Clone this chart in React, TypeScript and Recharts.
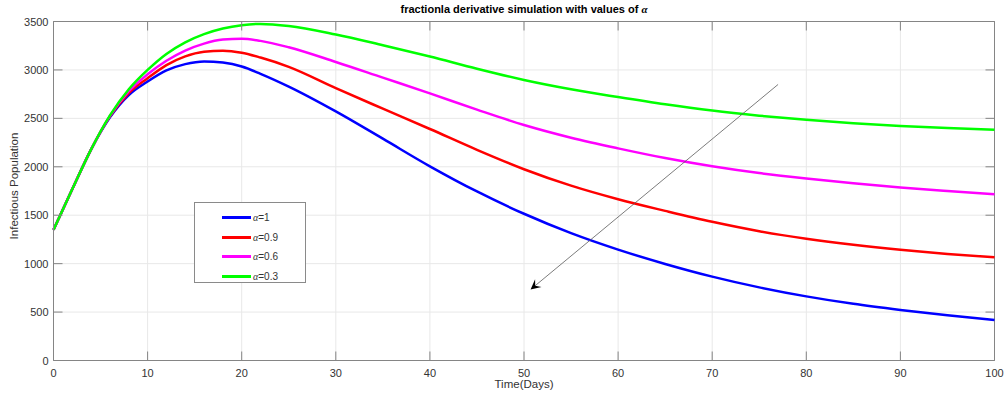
import React from "react";
import {
  LineChart,
  Line,
  XAxis,
  YAxis,
  CartesianGrid,
  ReferenceLine,
} from "recharts";

// time axis (days)
const days = [0, 2, 4, 6, 8, 10, 12, 14, 16, 18, 20, 22, 25, 30, 35, 40, 45, 50, 55, 60, 65, 70, 75, 80, 85, 90, 95, 100];

// infectious population for each fractional order
const alpha1 = [1350, 1770, 2180, 2510, 2740, 2880, 2995, 3060, 3088, 3076, 3035, 2960, 2828, 2572, 2290, 2005, 1745, 1515, 1315, 1145, 997, 866, 755, 662, 585, 522, 466, 417];
const alpha09 = [1350, 1770, 2180, 2520, 2760, 2914, 3050, 3140, 3188, 3199, 3178, 3128, 3032, 2812, 2600, 2390, 2175, 1975, 1805, 1665, 1545, 1432, 1335, 1258, 1195, 1143, 1100, 1065];
const alpha06 = [1350, 1770, 2180, 2525, 2780, 2955, 3095, 3200, 3272, 3313, 3321, 3300, 3234, 3082, 2920, 2758, 2590, 2431, 2300, 2190, 2090, 2005, 1935, 1879, 1830, 1786, 1750, 1717];
const alpha03 = [1350, 1770, 2180, 2530, 2800, 3000, 3165, 3285, 3370, 3428, 3462, 3475, 3454, 3366, 3255, 3138, 3012, 2896, 2800, 2720, 2645, 2580, 2528, 2485, 2450, 2422, 2400, 2383];

const xTicks = [0, 10, 20, 30, 40, 50, 60, 70, 80, 90, 100];
const yTicks = [0, 500, 1000, 1500, 2000, 2500, 3000, 3500];

// annotation arrow: tail then head, in data units
const arrowTail = { x: 77, y: 2850 };
const arrowHead = { x: 50.7, y: 733 };

const series = [
  { key: "a1", label: "=1", color: "#0000ff", values: alpha1 },
  { key: "a09", label: "=0.9", color: "#ff0000", values: alpha09 },
  { key: "a06", label: "=0.6", color: "#ff00ff", values: alpha06 },
  { key: "a03", label: "=0.3", color: "#00ff00", values: alpha03 },
];

const data = days.map((d, i) => {
  const row: Record<string, number> = { x: d };
  series.forEach((s) => (row[s.key] = s.values[i]));
  return row;
});

const W = 1005;
const H = 397;
const box = { left: 53.5, right: 994.5, top: 21.5, bottom: 360.5 };
const TICK = 9;
const AXIS = "#858585";
const TEXT = "#333333";
const SANS = "'Liberation Sans', Arial, Helvetica, sans-serif";
const GREEK = "'Liberation Serif', 'Times New Roman', serif";

const XTick = (props: any) => {
  const { x, payload } = props;
  return (
    <g>
      <line x1={x} y1={box.bottom} x2={x} y2={box.bottom - TICK} stroke={AXIS} />
      <line x1={x} y1={box.top} x2={x} y2={box.top + TICK} stroke={AXIS} />
      <text x={x} y={box.bottom + 16} textAnchor="middle" fontSize={11} fontFamily={SANS} fill={TEXT}>
        {payload.value}
      </text>
    </g>
  );
};

const YTick = (props: any) => {
  const { y, payload } = props;
  return (
    <g>
      <line x1={box.left} y1={y} x2={box.left + TICK} y2={y} stroke={AXIS} />
      <line x1={box.right} y1={y} x2={box.right - TICK} y2={y} stroke={AXIS} />
      <text x={box.left - 5} y={y + 4} textAnchor="end" fontSize={11} fontFamily={SANS} fill={TEXT}>
        {payload.value}
      </text>
    </g>
  );
};

// thin line with a filled arrowhead at the second end
const Arrow = (props: any) => {
  const { x1, y1, x2, y2 } = props;
  const dx = x2 - x1;
  const dy = y2 - y1;
  const len = Math.hypot(dx, dy) || 1;
  const ux = dx / len;
  const uy = dy / len;
  const L = 10;
  const hw = 5;
  const bx = x2 - ux * L;
  const by = y2 - uy * L;
  const nx = x2 - ux * L * 0.6;
  const ny = y2 - uy * L * 0.6;
  const pts = [
    [x2, y2],
    [bx - uy * hw, by + ux * hw],
    [nx, ny],
    [bx + uy * hw, by - ux * hw],
  ]
    .map((p) => p.join(","))
    .join(" ");
  return (
    <g>
      <line x1={x1} y1={y1} x2={nx} y2={ny} stroke="#5a5a5a" strokeWidth={0.8} />
      <polygon points={pts} fill="#000" />
    </g>
  );
};

const Alpha = () => <span style={{ fontFamily: GREEK, fontStyle: "italic" }}>α</span>;

export default function App() {
  return (
    <div style={{ position: "absolute", left: 0, top: 0, width: W, height: H, background: "#fff", fontFamily: SANS }}>
      <LineChart width={W} height={H} data={data} margin={{ top: box.top, right: W - box.right, bottom: 0, left: 0.5 }}>
        <CartesianGrid stroke="#e8e8e8" vertical horizontal />
        <XAxis
          dataKey="x"
          type="number"
          domain={[0, 100]}
          ticks={xTicks}
          height={H - box.bottom}
          axisLine={{ stroke: AXIS }}
          tickLine={false}
          tickSize={0}
          tickMargin={0}
          tick={<XTick />}
          interval={0}
        />
        <YAxis
          type="number"
          domain={[0, 3500]}
          ticks={yTicks}
          width={53}
          axisLine={{ stroke: AXIS }}
          tickLine={false}
          tickSize={0}
          tickMargin={0}
          tick={<YTick />}
          interval={0}
        />
        <ReferenceLine y={3500} stroke={AXIS} />
        <ReferenceLine x={100} stroke={AXIS} />
        {series.map((s) => (
          <Line
            key={s.key}
            type="monotone"
            dataKey={s.key}
            stroke={s.color}
            strokeWidth={2.5}
            dot={false}
            isAnimationActive={false}
          />
        ))}
        <ReferenceLine segment={[arrowTail, arrowHead]} shape={<Arrow />} />
      </LineChart>

      <div style={{ position: "absolute", left: 0, width: W - 1, top: 3, textAlign: "center", paddingLeft: 44, boxSizing: "border-box", fontSize: 11, fontWeight: "bold", color: "#000" }}>
        fractionla derivative simulation with values of <Alpha />
      </div>

      <div style={{ position: "absolute", left: box.left, width: box.right - box.left, top: 378, textAlign: "center", fontSize: 11.5, color: TEXT }}>
        Time(Days)
      </div>

      <div
        style={{
          position: "absolute",
          left: 14,
          top: 186,
          transform: "translate(-50%, -50%) rotate(-90deg)",
          whiteSpace: "nowrap",
          fontSize: 11.5,
          color: TEXT,
        }}
      >
        Infectious Population
      </div>

      <div
        style={{
          position: "absolute",
          left: 194,
          top: 202,
          width: 112,
          height: 81,
          border: "1px solid #8a8a8a",
          background: "#fff",
          boxSizing: "border-box",
          paddingTop: 5,
        }}
      >
        {series.map((s) => (
          <div key={s.key} style={{ display: "flex", alignItems: "center", height: 19.5, fontSize: 10, color: TEXT }}>
            <span style={{ display: "inline-block", marginLeft: 27, width: 29, height: 3, background: s.color }} />
            <span style={{ marginLeft: 2 }}>
              <Alpha />
              {s.label}
            </span>
          </div>
        ))}
      </div>
    </div>
  );
}
